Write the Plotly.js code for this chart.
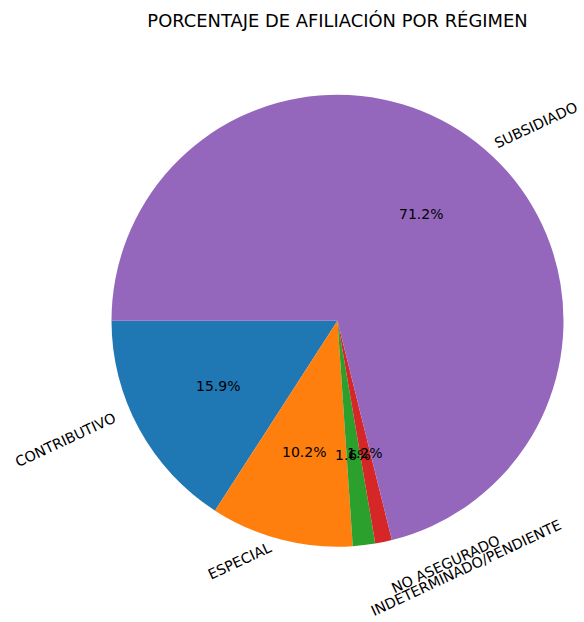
<!DOCTYPE html>
<html>
<head>
<meta charset="utf-8">
<script src="https://cdn.plot.ly/plotly-3.0.1.min.js"></script>
<style>
  html, body { margin: 0; padding: 0; background: #ffffff; }
  #chart { width: 584px; height: 622px; }
</style>
</head>
<body>
<div id="chart"></div>
<script>
// ---- Data ----
const categories = ['CONTRIBUTIVO', 'ESPECIAL', 'INDETERMINADO/PENDIENTE', 'NO ASEGURADO', 'SUBSIDIADO'];
const percentages = [15.9, 10.2, 1.6, 1.2, 71.2];
const sliceColors = ['#1f77b4', '#ff7f0e', '#2ca02c', '#d62728', '#9467bd'];
const chartTitle = 'PORCENTAJE DE AFILIACIÓN POR RÉGIMEN';

// ---- Geometry / style ----
const W = 584, H = 622;
const CX = 337.5, CY = 320.7, R = 226;     // pie centre and radius in pixels
const START_DEG = 180;                      // first slice starts at 9 o'clock, counterclockwise
const LABEL_DIST = 1.1, PCT_DIST = 0.6, LABEL_ROT = 25;
const FONT = 'DejaVu Sans, Verdana, sans-serif';

const total = percentages.reduce((a, b) => a + b, 0);

// Plotly (counterclockwise) places the END of the first slice at `rotation`
// (clockwise degrees from 12 o'clock); we want its START at 9 o'clock.
const plotlyRotation = 270 - 360 * percentages[0] / total;

const pie = {
  type: 'pie',
  labels: categories,
  values: percentages,
  sort: false,
  direction: 'counterclockwise',
  rotation: plotlyRotation,
  marker: { colors: sliceColors, line: { width: 0 } },
  textinfo: 'none',
  hoverinfo: 'label+percent',
  showlegend: false,
  domain: {
    x: [(CX - R) / W, (CX + R) / W],
    y: [(H - CY - R) / H, (H - CY + R) / H]
  }
};

const annotations = [];
let cum = 0;
percentages.forEach((v, i) => {
  const f = v / total;
  const t1 = START_DEG + 360 * cum;
  const t2 = t1 + 360 * f;
  cum += f;
  const mid = (t1 + t2) / 2 * Math.PI / 180;
  const c = Math.cos(mid), s = Math.sin(mid);
  // outer rotated category label
  const lx = CX + LABEL_DIST * R * c, ly = CY - LABEL_DIST * R * s;
  annotations.push({
    text: categories[i],
    x: lx / W, y: 1 - ly / H, xref: 'paper', yref: 'paper',
    xanchor: c > 0 ? 'left' : 'right', yanchor: 'middle',
    textangle: -LABEL_ROT, showarrow: false, borderpad: 0,
    font: { family: FONT, size: 14.3, color: '#000000' }
  });
  // percentage inside
  const px = CX + PCT_DIST * R * c, py = CY - PCT_DIST * R * s;
  annotations.push({
    text: v.toFixed(1) + '%',
    x: px / W, y: 1 - py / H, xref: 'paper', yref: 'paper',
    xanchor: 'center', yanchor: 'middle',
    showarrow: false, borderpad: 0,
    font: { family: FONT, size: 14, color: '#000000' }
  });
});

const layout = {
  width: W, height: H,
  margin: { l: 0, r: 0, t: 0, b: 0 },
  paper_bgcolor: '#ffffff',
  plot_bgcolor: '#ffffff',
  title: {
    text: chartTitle,
    x: CX / W, xanchor: 'center',
    y: 1 - 21 / H, yanchor: 'middle',
    font: { family: FONT, size: 17.9, color: '#000000' }
  },
  annotations: annotations,
  showlegend: false
};

Plotly.newPlot('chart', [pie], layout, { displayModeBar: false, staticPlot: true });
</script>
</body>
</html>
